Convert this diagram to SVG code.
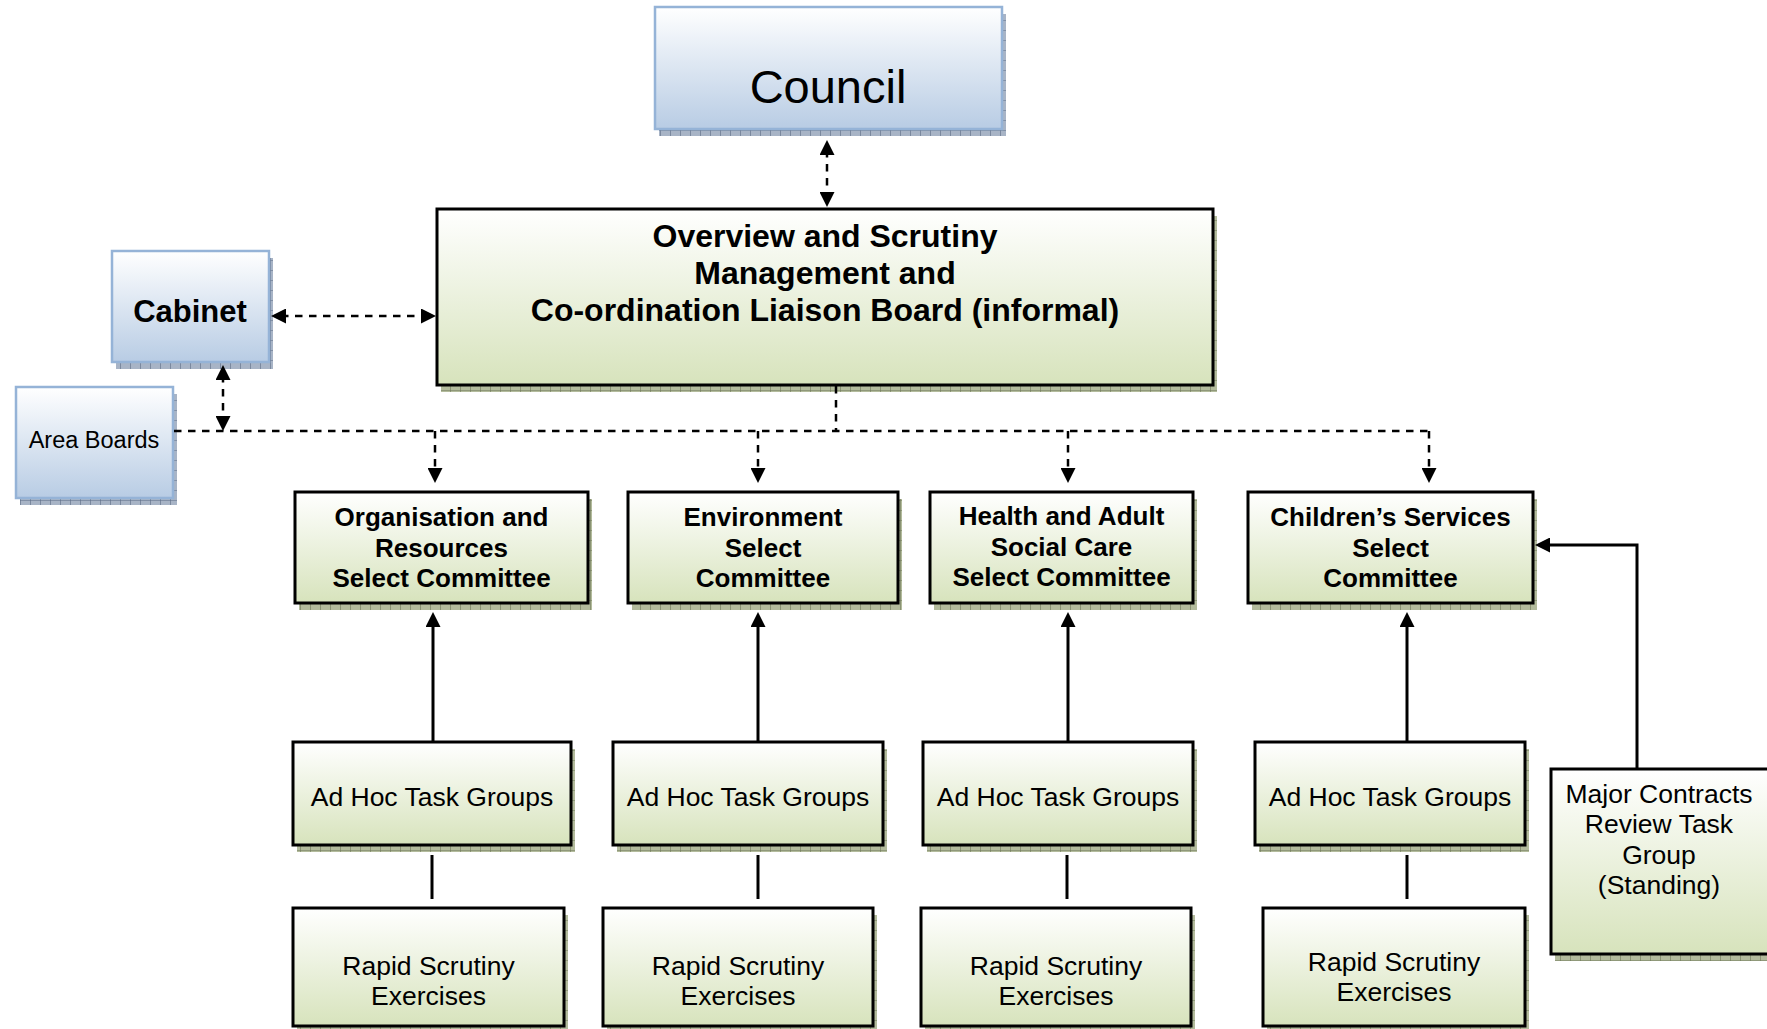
<svg xmlns="http://www.w3.org/2000/svg" width="1767" height="1029" viewBox="0 0 1767 1029">
<style>
.g{fill:url(#gg);stroke:#000;stroke-width:3}
.b{fill:url(#bg);stroke:#95b3d7;stroke-width:2.5}
.sg{fill:url(#pg)}
.sb{fill:url(#pb)}
text{font-family:"Liberation Sans",Arial,sans-serif;fill:#000;text-anchor:middle}
.bd{font-weight:bold}
.dash{fill:none;stroke:#000;stroke-width:2.5;stroke-dasharray:7.5 6.5}
.solid{fill:none;stroke:#000;stroke-width:3}
</style>
<defs>
<linearGradient id="gg" x1="0" y1="0" x2="0" y2="1"><stop offset="0" stop-color="#ffffff"/><stop offset="1" stop-color="#d7e3bc"/></linearGradient>
<linearGradient id="bg" x1="0" y1="0" x2="0" y2="1"><stop offset="0" stop-color="#ffffff"/><stop offset="1" stop-color="#b8cce4"/></linearGradient>
<pattern id="pg" patternUnits="userSpaceOnUse" width="10" height="10"><rect width="10" height="10" fill="#b3bb9c"/><path d="M0,0V10M0,0H10" stroke="#6e7858" stroke-width="1.2"/></pattern>
<pattern id="pb" patternUnits="userSpaceOnUse" width="10" height="10"><rect width="10" height="10" fill="#a8b4c6"/><path d="M0,0V10M0,0H10" stroke="#5d6d86" stroke-width="1.2"/></pattern>
<marker id="ah" viewBox="0 0 15 15" refX="5" refY="7.5" markerWidth="15" markerHeight="15" markerUnits="userSpaceOnUse" orient="auto-start-reverse"><path d="M0,0L15,7.5L0,15Z" fill="#000"/></marker>
</defs>

<g id="council"><rect class="sb" x="659" y="14" width="347" height="122"/><rect class="b" x="655" y="7" width="347" height="122"/><text x="828" y="103" font-size="47">Council</text></g>

<g id="board"><rect class="sg" x="441" y="216" width="776" height="176"/><rect class="g" x="437" y="209" width="776" height="176"/>
<text class="bd" font-size="32"><tspan x="825" y="247">Overview and Scrutiny</tspan><tspan x="825" y="284">Management and</tspan><tspan x="825" y="321">Co-ordination Liaison Board (informal)</tspan></text></g>

<g id="cabinet"><rect class="sb" x="116" y="258" width="157" height="111"/><rect class="b" x="112" y="251" width="157" height="111"/><text class="bd" x="190" y="322" font-size="31">Cabinet</text></g>

<g id="area-boards"><rect class="sb" x="20" y="394" width="157" height="111"/><rect class="b" x="16" y="387" width="157" height="111"/><text x="94" y="448" font-size="23.5">Area Boards</text></g>

<g id="org"><rect class="sg" x="299" y="499" width="293" height="111"/><rect class="g" x="295" y="492" width="293" height="111"/>
<text class="bd" font-size="26"><tspan x="441.5" y="526">Organisation and</tspan><tspan x="441.5" y="556.5">Resources</tspan><tspan x="441.5" y="587">Select Committee</tspan></text></g>

<g id="env"><rect class="sg" x="632" y="499" width="270" height="111"/><rect class="g" x="628" y="492" width="270" height="111"/>
<text class="bd" font-size="26"><tspan x="763" y="526">Environment</tspan><tspan x="763" y="556.5">Select</tspan><tspan x="763" y="587">Committee</tspan></text></g>

<g id="health"><rect class="sg" x="934" y="499" width="263" height="111"/><rect class="g" x="930" y="492" width="263" height="111"/>
<text class="bd" font-size="26"><tspan x="1061.5" y="525">Health and Adult</tspan><tspan x="1061.5" y="555.5">Social Care</tspan><tspan x="1061.5" y="586">Select Committee</tspan></text></g>

<g id="children"><rect class="sg" x="1252" y="499" width="285" height="111"/><rect class="g" x="1248" y="492" width="285" height="111"/>
<text class="bd" font-size="26"><tspan x="1390.5" y="526">Children’s Services</tspan><tspan x="1390.5" y="556.5">Select</tspan><tspan x="1390.5" y="587">Committee</tspan></text></g>

<g id="adhoc1"><rect class="sg" x="297" y="749" width="278" height="103"/><rect class="g" x="293" y="742" width="278" height="103"/><text x="432" y="806" font-size="26.5">Ad Hoc Task Groups</text></g>
<g id="adhoc2"><rect class="sg" x="617" y="749" width="270" height="103"/><rect class="g" x="613" y="742" width="270" height="103"/><text x="748" y="806" font-size="26.5">Ad Hoc Task Groups</text></g>
<g id="adhoc3"><rect class="sg" x="927" y="749" width="270" height="103"/><rect class="g" x="923" y="742" width="270" height="103"/><text x="1058" y="806" font-size="26.5">Ad Hoc Task Groups</text></g>
<g id="adhoc4"><rect class="sg" x="1259" y="749" width="270" height="103"/><rect class="g" x="1255" y="742" width="270" height="103"/><text x="1390" y="806" font-size="26.5">Ad Hoc Task Groups</text></g>

<g id="rapid1"><rect class="sg" x="297" y="915" width="271" height="118"/><rect class="g" x="293" y="908" width="271" height="118"/><text font-size="26.5"><tspan x="428.5" y="975">Rapid Scrutiny</tspan><tspan x="428.5" y="1005">Exercises</tspan></text></g>
<g id="rapid2"><rect class="sg" x="607" y="915" width="270" height="118"/><rect class="g" x="603" y="908" width="270" height="118"/><text font-size="26.5"><tspan x="738" y="975">Rapid Scrutiny</tspan><tspan x="738" y="1005">Exercises</tspan></text></g>
<g id="rapid3"><rect class="sg" x="925" y="915" width="270" height="118"/><rect class="g" x="921" y="908" width="270" height="118"/><text font-size="26.5"><tspan x="1056" y="975">Rapid Scrutiny</tspan><tspan x="1056" y="1005">Exercises</tspan></text></g>
<g id="rapid4"><rect class="sg" x="1267" y="915" width="262" height="118"/><rect class="g" x="1263" y="908" width="262" height="118"/><text font-size="26.5"><tspan x="1394" y="971">Rapid Scrutiny</tspan><tspan x="1394" y="1001">Exercises</tspan></text></g>

<g id="major-contracts"><rect class="sg" x="1555" y="776" width="230" height="185"/><rect class="g" x="1551" y="769" width="230" height="185"/>
<text font-size="26.5"><tspan x="1659" y="803">Major Contracts</tspan><tspan x="1659" y="833">Review Task</tspan><tspan x="1659" y="864">Group</tspan><tspan x="1659" y="894">(Standing)</tspan></text></g>

<g id="connectors">
<path class="dash" d="M827,150V197" marker-start="url(#ah)" marker-end="url(#ah)"/>
<path class="dash" d="M281,316H426" marker-start="url(#ah)" marker-end="url(#ah)"/>
<path class="dash" d="M223,375V421" marker-start="url(#ah)" marker-end="url(#ah)"/>
<path class="dash" d="M836,386V431"/>
<path class="dash" d="M174,431H1429"/>
<path class="dash" d="M435,431V473" marker-end="url(#ah)"/>
<path class="dash" d="M758,431V473" marker-end="url(#ah)"/>
<path class="dash" d="M1068,431V473" marker-end="url(#ah)"/>
<path class="dash" d="M1429,431V473" marker-end="url(#ah)"/>
<path class="solid" d="M433,741V622" marker-end="url(#ah)"/>
<path class="solid" d="M758,741V622" marker-end="url(#ah)"/>
<path class="solid" d="M1068,741V622" marker-end="url(#ah)"/>
<path class="solid" d="M1407,741V622" marker-end="url(#ah)"/>
<path class="solid" d="M1637,768V545H1545" marker-end="url(#ah)"/>
<path class="solid" d="M432,855V899"/>
<path class="solid" d="M758,855V899"/>
<path class="solid" d="M1067,855V899"/>
<path class="solid" d="M1407,855V899"/>
</g>
</svg>
